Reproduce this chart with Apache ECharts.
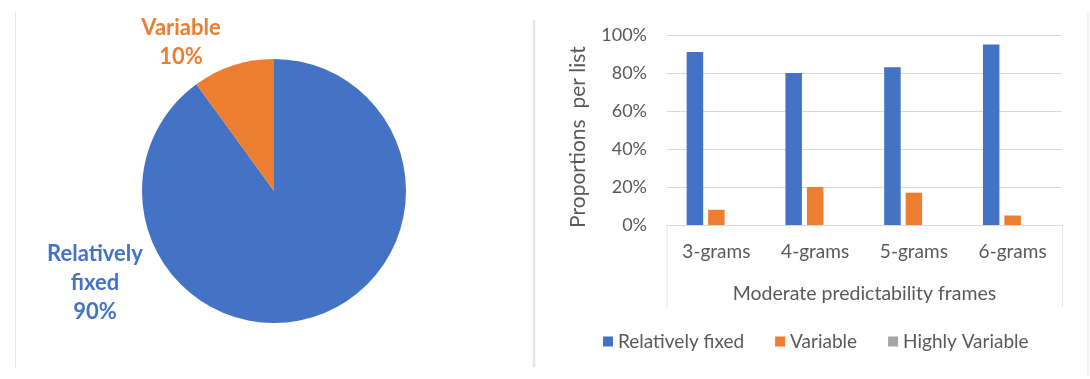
<!DOCTYPE html>
<html>
<head>
<meta charset="utf-8">
<script src="https://cdn.jsdelivr.net/npm/echarts@6/dist/echarts.min.js"></script>
<style>
  html, body { margin: 0; padding: 0; background: #ffffff; }
  #chart { width: 1090px; height: 379px; }
</style>
</head>
<body>
<div id="chart"></div>
<script>
// Overall split of frames (pie)
const pieNames = ['Relatively fixed', 'Variable'];
const pieValues = [90, 10];

// Moderate predictability frames by n-gram length (bars)
const categories = ['3-grams', '4-grams', '5-grams', '6-grams'];
const seriesNames = ['Relatively fixed', 'Variable', 'Highly Variable'];
const relativelyFixed = [0.91, 0.80, 0.83, 0.95];
const variable = [0.08, 0.20, 0.17, 0.05];
const highlyVariable = [0, 0, 0, 0];
const yTicks = [0, 0.2, 0.4, 0.6, 0.8, 1.0];

const BLUE = '#4472C4';
const ORANGE = '#ED7D31';
const GREY = '#A5A5A5';
const TEXT = '#595959';
const FONT = 'Lato, "Open Sans", sans-serif';

const chart = echarts.init(document.getElementById('chart'), null, { renderer: 'canvas' });

const pieLabelPos = [
  { x: 95, y: 283 },
  { x: 181, y: 42 }
];

const frame = (x, y1, y2, w) => ({
  type: 'line',
  shape: { x1: x, y1: y1, x2: x, y2: y2 },
  style: { stroke: '#e4e4e4', lineWidth: w },
  silent: true
});

chart.setOption({
  backgroundColor: '#ffffff',
  animation: false,
  textStyle: { fontFamily: FONT },
  graphic: [
    frame(15.5, 12, 368, 1),
    frame(534, 20, 367, 2.5),
    frame(1088, 12, 376, 1),
    // box around category labels
    frame(667, 225, 307, 1),
    frame(1062.5, 225, 307, 1)
  ],
  legend: {
    data: seriesNames,
    left: 598,
    top: 327,
    icon: 'rect',
    itemWidth: 10,
    itemHeight: 10,
    itemGap: 31,
    textStyle: { color: TEXT, fontSize: 19, fontFamily: FONT }
  },
  grid: {
    left: 667,
    right: 28,
    top: 35,
    bottom: 154,
    containLabel: false
  },
  xAxis: {
    type: 'category',
    data: categories,
    name: 'Moderate predictability frames',
    nameLocation: 'middle',
    nameGap: 59,
    nameTextStyle: { color: TEXT, fontSize: 19.5, fontFamily: FONT },
    axisLine: { lineStyle: { color: '#d9d9d9', width: 1 } },
    axisTick: { show: false },
    axisLabel: { color: TEXT, fontSize: 19, fontFamily: FONT, margin: 17 }
  },
  yAxis: {
    type: 'value',
    min: yTicks[0],
    max: yTicks[yTicks.length - 1],
    interval: 0.2,
    name: 'Proportions  per list',
    nameLocation: 'middle',
    nameRotate: 90,
    nameGap: 78,
    nameTextStyle: { color: TEXT, fontSize: 21, fontFamily: FONT, padding: [0, 14, 0, 0] },
    axisLine: { show: false },
    axisTick: { show: false },
    splitLine: { lineStyle: { color: '#d9d9d9', width: 1 } },
    axisLabel: {
      color: TEXT,
      fontSize: 18,
      fontFamily: FONT,
      margin: 20,
      formatter: v => Math.round(v * 100) + '%'
    }
  },
  series: [
    {
      type: 'pie',
      center: [274, 191],
      radius: 132,
      startAngle: 90,
      clockwise: true,
      data: pieNames.map((n, i) => ({
        name: n,
        value: pieValues[i],
        itemStyle: { color: [BLUE, ORANGE][i] },
        label: { color: [BLUE, ORANGE][i] }
      })),
      label: {
        show: true,
        position: 'outside',
        fontFamily: FONT,
        fontSize: 22,
        fontWeight: 'bold',
        lineHeight: 29,
        align: 'center',
        formatter: p => p.name.replace(' ', '\n') + '\n' + Math.round(p.percent) + '%'
      },
      labelLine: { show: false },
      labelLayout: p => ({
        x: pieLabelPos[p.dataIndex].x,
        y: pieLabelPos[p.dataIndex].y,
        align: 'center',
        verticalAlign: 'middle'
      }),
      emphasis: { disabled: true }
    },
    {
      name: seriesNames[0], type: 'bar', data: relativelyFixed,
      itemStyle: { color: BLUE }, barWidth: 16.5, barGap: '30%'
    },
    {
      name: seriesNames[1], type: 'bar', data: variable,
      itemStyle: { color: ORANGE }, barWidth: 16.5, barGap: '30%'
    },
    {
      name: seriesNames[2], type: 'bar', data: highlyVariable,
      itemStyle: { color: GREY }, barWidth: 16.5, barGap: '30%'
    }
  ]
});
</script>
</body>
</html>
